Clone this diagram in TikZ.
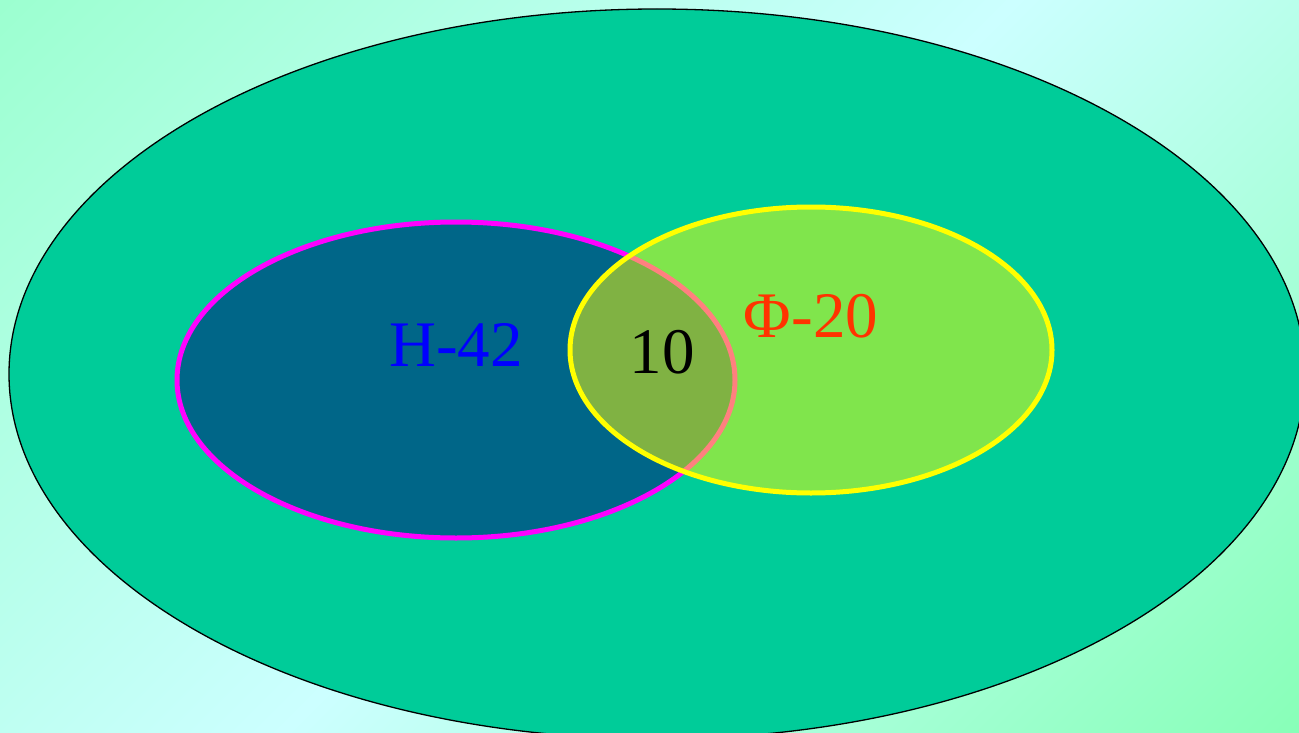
\documentclass[tikz,border=0pt]{standalone}
\usepackage{fontspec}
\setmainfont{Liberation Serif}
\definecolor{bgA}{HTML}{9CFFD0}
\definecolor{bgB}{HTML}{88FFB8}
\definecolor{bgC}{HTML}{CCFFFF}
\definecolor{outerfill}{HTML}{00CC99}
\definecolor{hfill}{HTML}{006688}
\definecolor{phicol}{HTML}{FF3300}
\definecolor{hborder}{HTML}{FF00FF}
\definecolor{ylw}{HTML}{FFFF00}
\definecolor{bluetext}{HTML}{0000FF}
\pgfdeclareverticalshading{bgshade}{100bp}{color(0bp)=(bgB); color(14.6bp)=(bgB); color(50bp)=(bgC); color(85.4bp)=(bgA); color(100bp)=(bgA)}
\tikzset{
  setlabel/.style={anchor=base, inner sep=0pt, font=\fontsize{65}{78}\selectfont},
}
\begin{document}
\begin{tikzpicture}[x=1pt,y=-1pt]
\useasboundingbox (0,0) rectangle (1299,733);
\shade[shading=bgshade, shading angle=45] (0,0) rectangle (1299,733);
\begin{scope}
\clip (0,0) rectangle (1299,733);
\draw[fill=outerfill, draw=black, line width=1.3pt] (657,374) ellipse [x radius=648, y radius=365];
\end{scope}
\draw[fill=hfill, draw=hborder, line width=5pt] (456,380) ellipse [x radius=279, y radius=158];
\fill[ylw, fill opacity=0.5] (811,350) ellipse [x radius=241, y radius=143];
\draw[ylw, line width=5pt] (811,350) ellipse [x radius=241, y radius=143];
\node[setlabel, text=bluetext] (h) at (456,366) {H-42};
\node[setlabel, text=black] (both) at (662,373) {10};
\node[setlabel, text=phicol] (phi) at (811,337) {Φ-20};
\end{tikzpicture}
\end{document}
